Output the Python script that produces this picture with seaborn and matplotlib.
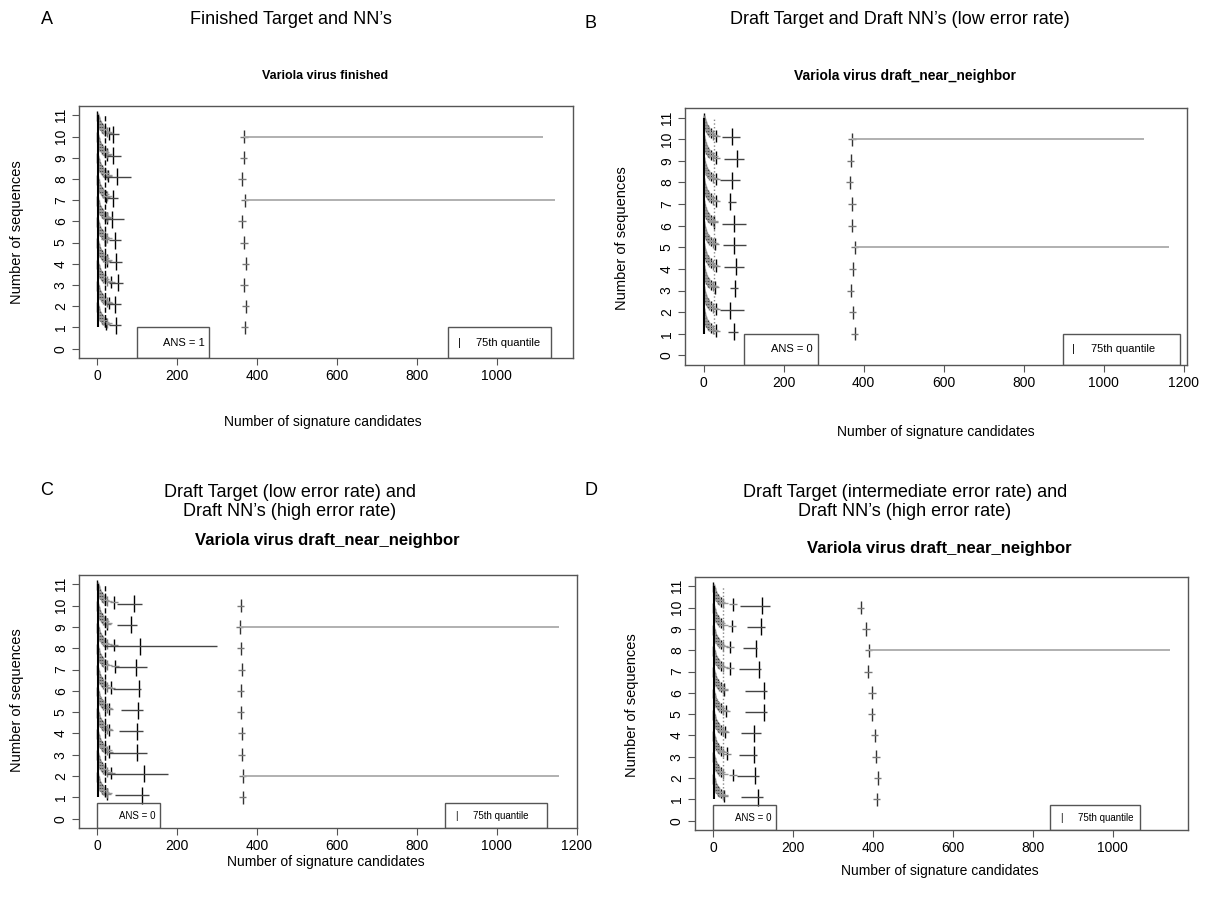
import pandas as pd
import matplotlib.pyplot as plt
import seaborn as sns
from matplotlib.patches import Rectangle

sns.set_style("white")
plt.rcParams['font.family'] = ['Liberation Sans', 'DejaVu Sans']
plt.rcParams['text.color'] = 'black'
plt.rcParams['xtick.color'] = 'black'
plt.rcParams['ytick.color'] = 'black'

levels = list(range(1, 11))

# Panel A - finished target
a_big_x = [47, 45, 51, 47, 45, 36, 38, 50, 40, 40]
a_big_lo = [30, 25, 30, 30, 28, 20, 25, 17, 25, 28]
a_big_hi = [60, 58, 65, 62, 60, 67, 52, 83, 58, 55]
a_mid_x = [22, 28, 33, 25, 20, 24, 22, 26, 25, 28]
a_q75 = [370, 372, 368, 372, 368, 363, 370, 363, 367, 368]
a_q75_end = {7: 1145, 10: 1115}

# Panel B - draft target, draft NN (low error)
b_big_x = [75, 66, 78, 82, 75, 75, 67, 72, 83, 72]
b_big_lo = [60, 40, 65, 50, 48, 47, 60, 40, 50, 45]
b_big_hi = [85, 100, 85, 100, 105, 105, 80, 90, 100, 92]
b_mid_x = [30, 30, 28, 32, 28, 26, 30, 30, 30, 30]
b_q75 = [378, 373, 369, 373, 378, 372, 372, 366, 368, 372]
b_q75_end = {5: 1162, 10: 1100}

# Panel C - draft target (low error), draft NN (high error)
c_big_x = [112, 117, 99, 99, 101, 103, 97, 107, 84, 91]
c_big_lo = [45, 24, 30, 55, 60, 40, 45, 16, 50, 49]
c_big_hi = [130, 178, 125, 115, 115, 108, 125, 300, 100, 111]
c_mid_x = [25, 35, 30, 28, 30, 35, 45, 41, 24, 41]
c_q75 = [364, 364, 362, 362, 359, 359, 362, 360, 356, 359]
c_q75_end = {2: 1155, 9: 1155}

# Panel D - draft target (intermediate error), draft NN (high error)
d_big_x = [112, 103, 101, 101, 127, 127, 113, 107, 120, 122]
d_big_lo = [70, 60, 65, 70, 80, 80, 65, 75, 85, 67]
d_big_hi = [125, 115, 110, 120, 135, 135, 120, 110, 130, 142]
d_mid_x = [27, 49, 35, 30, 32, 27, 42, 42, 47, 49]
d_q75 = [410, 412, 408, 405, 397, 398, 388, 390, 383, 370]
d_q75_end = {8: 1142}

# small crosses stacked above each level (x, offset in y, half width)
clu_x = [0, 1, 2, 3, 4, 5, 7, 9, 11, 14, 18, 24]
clu_dy = [0.97, 0.9, 0.83, 0.76, 0.69, 0.62, 0.55, 0.48, 0.41, 0.34, 0.27, 0.2]
clu_err = [2, 3, 3, 4, 5, 5, 6, 7, 8, 9, 10, 12]

W, H = 1218, 907
fig = plt.figure(figsize=(W / 100, H / 100), dpi=100)
EDGE = '#555555'


def add_ax(l, r, t, b):
    return fig.add_axes([l / W, 1 - b / H, (r - l) / W, (b - t) / H])


def draw(ax, big_x, big_lo, big_hi, mid_x, q75, q75_end, xlim, xticks,
         ref_x, ref_ls, ref_col, ans, ans_box, q_box, boxfs):
    rows = []
    for i, k in enumerate(levels):
        for j, (cx, dy, e) in enumerate(zip(clu_x, clu_dy, clu_err)):
            sh = 'black' if j % 2 == 0 else 'gray'
            rows.append((cx, k + dy, cx - e, cx + e, sh, 50, '#999999'))
        rows.append((mid_x[i], k + 0.15, mid_x[i] - 10, mid_x[i] + 10,
                     'black', 80, '#888888'))
        rows.append((big_x[i], k + 0.1, big_lo[i], big_hi[i],
                     'black', 150, '#444444'))
        rows.append((q75[i], k, q75[i] - 10, q75[i] + 8, '#333333', 90, '#777777'))
    df = pd.DataFrame(rows, columns=['x', 'y', 'lo', 'hi', 'shade', 's', 'hcol'])

    # horizontal ranges
    ax.hlines(df['y'], df['lo'], df['hi'], colors=df['hcol'], lw=1)
    for k, end in q75_end.items():
        ax.hlines(k, q75[k - 1], end, colors='#aaaaaa', lw=1.3)
    # vertical ticks of each cross
    for sh, sub in df.groupby('shade'):
        c = {'black': 'black', 'gray': '#777777'}.get(sh, sh)
        sns.scatterplot(x=sub['x'], y=sub['y'], s=sub['s'].values, marker='|',
                        color=c, linewidth=1, ax=ax, legend=False)

    ax.vlines(1, 1, 11, color='black', lw=1.5)
    ax.vlines(ref_x, 1, 11, color=ref_col, lw=1, linestyles=ref_ls)

    # legend boxes
    x0, x1, y1 = ans_box
    ax.add_patch(Rectangle((x0, -0.44), x1 - x0, y1 + 0.44, fill=False,
                           ec=EDGE, lw=1, zorder=5))
    ax.text(x1 - 12, (y1 - 0.44) / 2, ans, ha='right', va='center', fontsize=boxfs)
    q0, q1, qy = q_box
    ax.add_patch(Rectangle((q0, -0.44), q1 - q0, qy + 0.44, fill=False,
                           ec=EDGE, lw=1, zorder=5))
    ax.text(q0 + 28, (qy - 0.44) / 2, '|', ha='center', va='center', fontsize=boxfs)
    ax.text(q0 + 70, (qy - 0.44) / 2, '75th quantile', ha='left', va='center',
            fontsize=boxfs)

    ax.set_xlim(*xlim)
    ax.set_ylim(-0.44, 11.44)
    ax.set_xticks(xticks)
    ax.set_yticks(range(0, 12))
    ax.set_yticklabels([str(v) for v in range(0, 12)], rotation=90, va='center')
    ax.tick_params(direction='out', length=5, width=0.8, color=EDGE,
                   labelcolor='black', labelsize=10, pad=3, left=True, bottom=True)
    for sp in ax.spines.values():
        sp.set_color(EDGE)
        sp.set_linewidth(1)
    ax.set_xlabel('')
    ax.set_ylabel('')


axA = add_ax(79, 573, 106, 358)
draw(axA, a_big_x, a_big_lo, a_big_hi, a_mid_x, a_q75, a_q75_end,
     (-46, 1191), [0, 200, 400, 600, 800, 1000], 20, '--', 'black',
     'ANS = 1', (100, 280, 1.0), (878, 1135, 1.0), 8)
axB = add_ax(685, 1187, 108, 365)
draw(axB, b_big_x, b_big_lo, b_big_hi, b_mid_x, b_q75, b_q75_end,
     (-46.5, 1208), [0, 200, 400, 600, 800, 1000, 1200], 25, ':', '#888888',
     'ANS = 0', (102, 285, 1.0), (897, 1190, 1.0), 8)
axC = add_ax(79, 577, 575, 828)
draw(axC, c_big_x, c_big_lo, c_big_hi, c_mid_x, c_q75, c_q75_end,
     (-46, 1201), [0, 200, 400, 600, 800, 1000, 1200], 20, '--', 'black',
     'ANS = 0', (0, 157, 0.72), (870, 1127, 0.72), 7)
axD = add_ax(695, 1188, 577, 830)
draw(axD, d_big_x, d_big_lo, d_big_hi, d_mid_x, d_q75, d_q75_end,
     (-46, 1188), [0, 200, 400, 600, 800, 1000], 23, ':', '#888888',
     'ANS = 0', (0, 157, 0.72), (842, 1067, 0.72), 7)

headers = [
    ('A', 47, 20, "Finished Target and NN\u2019s", 291, 20),
    ('B', 591, 23, "Draft Target and Draft NN\u2019s (low error rate)", 900, 20),
    ('C', 47, 490, "Draft Target (low error rate) and\nDraft NN\u2019s (high error rate)", 290, 502),
    ('D', 591, 490, "Draft Target (intermediate error rate) and\nDraft NN\u2019s (high error rate)", 905, 502),
]
for lab, lx, ly, txt, tx, ty in headers:
    fig.text(lx / W, 1 - ly / H, lab, ha='center', va='center', fontsize=13)
    fig.text(tx / W, 1 - ty / H, txt, ha='center', va='center', fontsize=13,
             linespacing=1.2)

subs = [("Variola virus finished", 325, 76, 9),
        ("Variola virus draft_near_neighbor", 905, 76, 10),
        ("Variola virus draft_near_neighbor", 327, 541, 12),
        ("Variola virus draft_near_neighbor", 939, 548, 12)]
for txt, x, y, fs in subs:
    fig.text(x / W, 1 - y / H, txt, ha='center', va='center', fontsize=fs,
             fontweight='bold')

xlabs = [(323, 422), (936, 432), (326, 862), (940, 871)]
for x, y in xlabs:
    fig.text(x / W, 1 - y / H, 'Number of signature candidates', ha='center',
             va='center', fontsize=10)
ylabs = [(17, 232), (622, 238), (17, 700), (632, 705)]
for x, y in ylabs:
    fig.text(x / W, 1 - y / H, 'Number of sequences', ha='center',
             va='center', fontsize=10.5, rotation=90)

plt.savefig('out.png', dpi=100)
